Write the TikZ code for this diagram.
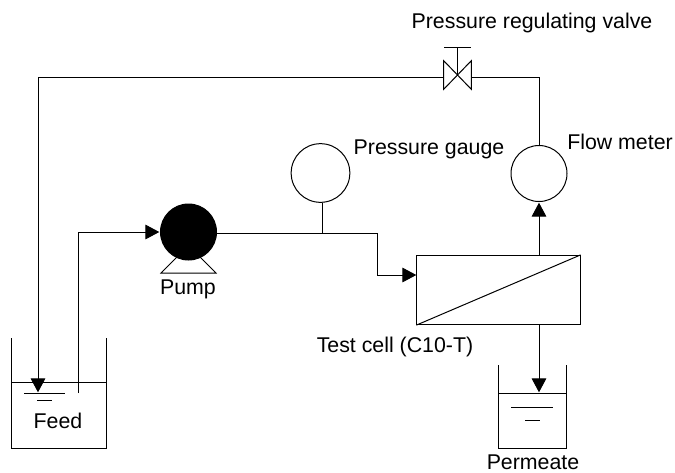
\documentclass[tikz,border=0pt]{standalone}
\usepackage{fontspec}
\setmainfont{Liberation Sans}
\usetikzlibrary{arrows.meta}

\tikzset{
  line/.style={line width=0.75pt},
  pipe/.style={line, -{Triangle[length=10.5pt,width=11pt]}, shorten >=0.5pt},
  meter/.style={circle, draw, line width=0.75pt, minimum size=42pt, inner sep=0pt},
  label/.style={font=\fontsize{16}{18}\selectfont, inner sep=0pt},
}

\begin{document}
\begin{tikzpicture}[x=0.75pt, y=-0.75pt]

    \useasboundingbox (0,0) rectangle (675,472);

    % feed tank
    \draw[line] (11,338) -- (11,448) -- (106,448) -- (106,338);
    \draw[line] (11,382) -- (106,382);
    \draw[line] (24,393) -- (65,393);
    \draw[line] (37,400) -- (52,400);
    \node[label] (feed) at (58,421) {Feed};

    % permeate tank
    \draw[line] (498,365) -- (498,448) -- (566,448) -- (566,365);
    \draw[line] (498,393) -- (566,393);
    \draw[line] (511,407) -- (553,407);
    \draw[line] (525,420.5) -- (540,420.5);
    \node[label] (permeate) at (533,462) {Permeate};

    % pump
    \node[meter, fill=black] (pump) at (188.5,232) {};
    \draw[line] (177,257) -- (161,273) -- (216,273) -- (200,257);
    \node[label] (pumplabel) at (188,289) {Pump};

    % gauge, meter, cell
    \node[meter, minimum size=44pt] (gauge) at (320.5,173) {};
    \node[meter] (flow) at (539,173.5) {};
    \node[rectangle, draw, line width=0.75pt, minimum width=122.4pt, minimum height=51.9pt,
      inner sep=0pt] (cell) at (498.5,290) {};
    \draw[line] (cell.south west) -- (cell.north east);

    % valve
    \node[minimum width=20.25pt, minimum height=21pt, inner sep=0pt] (valve) at (457.5,75) {};
    \draw[line] (valve.north west) -- (valve.south east) -- (valve.north east)
      -- (valve.south west) -- cycle;
    \coordinate (valvetop) at (457.5,47);
    \draw[line] (valve.center) -- (valvetop);
    \draw[line] (444,47) -- (471,47);

    \coordinate (valvein) at (444,77);
    \coordinate (valveout) at (471,77);
    \coordinate (returnend) at (38,393);
    \coordinate (feedend) at (78.5,393);
    \coordinate (tee) at (322,233);
    \coordinate (cellin) at (417,275);
    \coordinate (cellout) at (539,255.5);
    \coordinate (permeatein) at (539,393);
    \coordinate (cellbottom) at (539,324.5);

    % pipes
    \draw[pipe] (feedend) |- (pump.west);
    \draw[line] (pump.east |- tee) -- (tee);
    \draw[pipe] (tee) -| (377,275) -- (cellin);
    \draw[line] (gauge.south -| tee) -- (tee);
    \draw[pipe] (cellout) -- (flow.south);
    \draw[pipe] (cellbottom) -- (permeatein);
    \draw[line] (flow.north) |- (valveout);
    \draw[pipe] (valvein) -| (returnend);

    % labels
    \node[label] (valvelabel) at (532,23) {Pressure regulating valve};
    \node[label] (gaugelabel) at (429,149) {Pressure gauge};
    \node[label] (flowlabel) at (620,142) {Flow meter};
    \node[label] (celllabel) at (395,347) {Test cell (C10-T)};

\end{tikzpicture}
\end{document}
